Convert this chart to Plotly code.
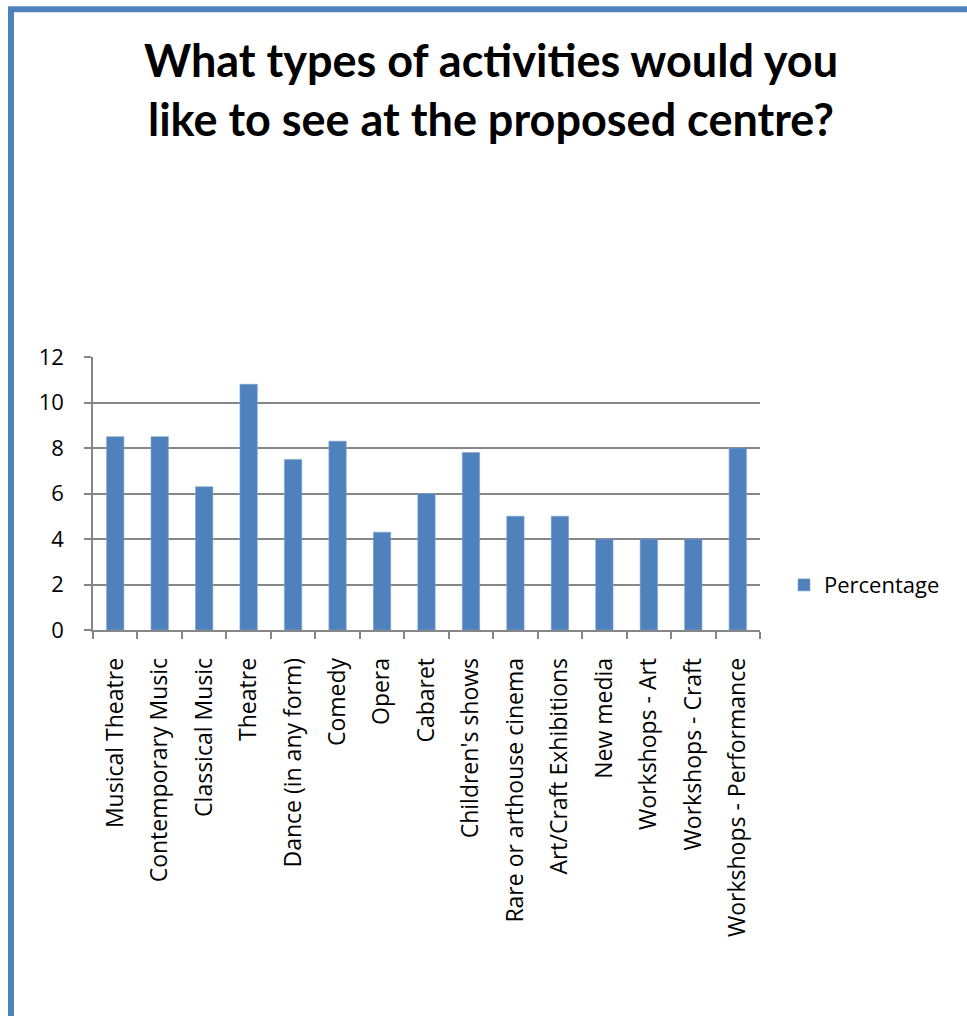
import plotly.graph_objects as go

categories = [
    "Musical Theatre", "Contemporary Music", "Classical Music", "Theatre",
    "Dance (in any form)", "Comedy", "Opera", "Cabaret", "Children's shows",
    "Rare or arthouse cinema", "Art/Craft Exhibitions", "New media",
    "Workshops - Art", "Workshops - Craft", "Workshops - Performance",
]
percentage = [8.5, 8.5, 6.3, 10.8, 7.5, 8.3, 4.3, 6.0, 7.8, 5.0, 5.0, 4.0, 4.0, 4.0, 8.0]
y_ticks = [0, 2, 4, 6, 8, 10, 12]
title_lines = ["What types of activities would you", "like to see at the proposed centre?"]

W, H = 967, 1016
L, R, T, B = 93, 207, 356.5, 386
pw, ph = W - L - R, H - T - B


def px_x(x):
    return (x - L) / pw


def px_y(y):
    return (H - B - y) / ph


BLUE = "#4F81BD"
GRID = "#868686"
LABEL_FONT = "Open Sans"

fig = go.Figure(
    go.Bar(
        x=categories,
        y=percentage,
        name="Percentage",
        marker=dict(color=BLUE, line=dict(color="#7FA2D0", width=0.6)),
        width=0.39,
        showlegend=True,
    )
)

fig.update_layout(
    width=W,
    height=H,
    margin=dict(l=L, r=R, t=T, b=B, pad=0),
    paper_bgcolor="white",
    plot_bgcolor="white",
    font=dict(family=LABEL_FONT, size=22, color="black"),
    showlegend=True,
    legend=dict(
        x=px_x(784), y=px_y(585), xanchor="left", yanchor="middle",
        font=dict(family=LABEL_FONT, size=22, color="black"),
        itemwidth=30, bgcolor="rgba(0,0,0,0)",
    ),
    xaxis=dict(
        tickangle=-90,
        showline=True, linecolor=GRID, linewidth=1.5,
        ticks="outside", ticklen=7, tickcolor=GRID, tickwidth=1.5,
        tickson="boundaries",
        showgrid=False,
        tickfont=dict(family=LABEL_FONT, size=23),
        ticklabelstandoff=17,
    ),
    yaxis=dict(
        range=[0, 12],
        tickvals=y_ticks,
        showline=True, linecolor=GRID, linewidth=1.5,
        ticks="outside", ticklen=7, tickcolor=GRID, tickwidth=1.5,
        showgrid=True, gridcolor=GRID, gridwidth=1.5,
        zeroline=False,
        tickfont=dict(family=LABEL_FONT, size=22),
        ticklabelstandoff=16,
    ),
)

for line, yc in zip(title_lines, [59, 118]):
    fig.add_annotation(
        text="<b>" + line + "</b>",
        xref="paper", yref="paper",
        x=px_x(491), y=px_y(yc), xanchor="center", yanchor="middle",
        showarrow=False,
        font=dict(family="Lato", size=45, color="black"),
    )

# blue frame around the chart area (extends past the right and bottom edges)
fig.add_shape(
    type="rect", xref="paper", yref="paper",
    x0=px_x(11), x1=px_x(990), y0=px_y(1040), y1=px_y(8),
    line=dict(color=BLUE, width=6),
    fillcolor="rgba(0,0,0,0)", layer="above",
)

fig.write_html("out.html")
